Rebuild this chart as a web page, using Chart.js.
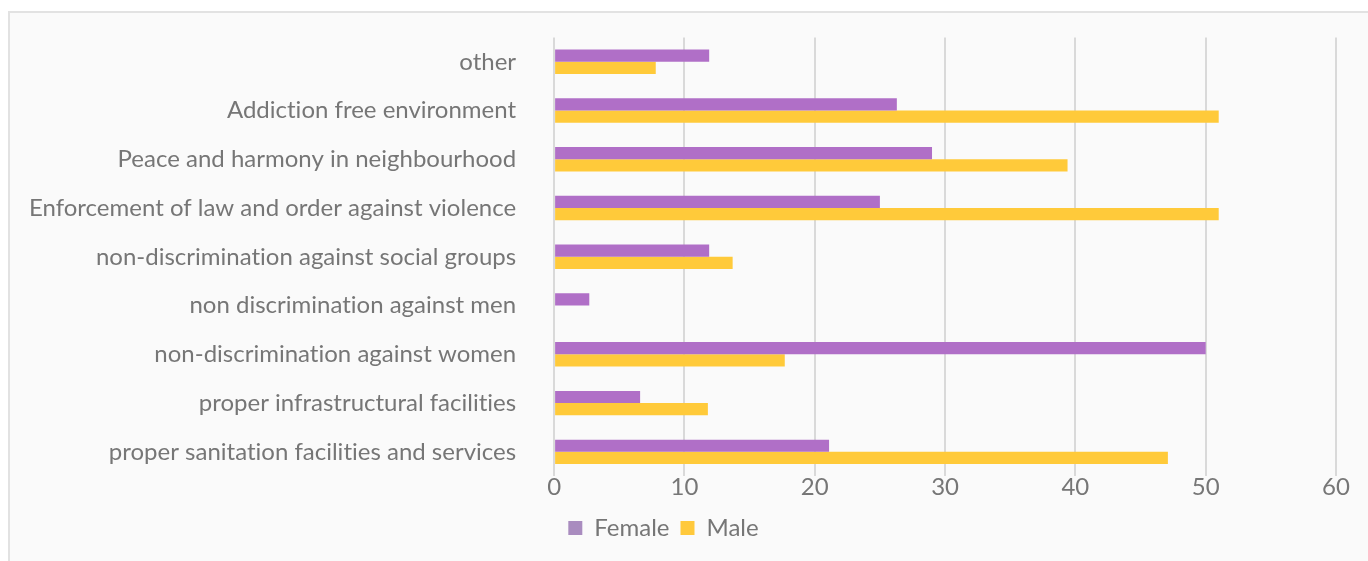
<!DOCTYPE html>
<html>
<head>
<meta charset="utf-8">
<script src="https://cdn.jsdelivr.net/npm/chart.js@4/dist/chart.umd.min.js"></script>
<style>
    html, body { margin: 0; padding: 0; background: #ffffff; overflow: hidden; }
    #frame {
        position: absolute; left: 8px; top: 11px;
        width: 1400px; height: 600px;
        background: #fafafa; border: 2px solid #e2e2e2;
    }
    #wrap { position: absolute; left: 0; top: -15px; width: 1368px; height: 576px; }
</style>
</head>
<body>
<div id="frame"></div>
<div id="wrap"><canvas id="goalsChart"></canvas></div>
<script>
(function goals () {
    'use strict';

    var categories = [
        'other',
        'Addiction free environment',
        'Peace and harmony in neighbourhood',
        'Enforcement of law and order against violence',
        'non-discrimination against social groups',
        'non discrimination against men',
        'non-discrimination against women',
        'proper infrastructural facilities',
        'proper sanitation facilities and services'
    ];
    var female = [11.9, 26.3, 29.0, 25.0, 11.9, 2.7, 50.0, 6.6, 21.1];
    var male = [7.8, 51.0, 39.4, 51.0, 13.7, 0, 17.7, 11.8, 47.1];
    var xTicks = [0, 10, 20, 30, 40, 50, 60];

    var barColors = ['#b06fc7', '#ffca3a'];
    var swatchColors = ['#a98cbf', '#ffc93c'];
    var textColor = '#767676';
    var font = { family: 'Lato', size: 24 };

    var ctx = document.getElementById('goalsChart').getContext('2d');

    // plain glyphs, no "ti" / "fi" ligatures
    var plainText = {
        id: 'plainText',
        beforeDraw: function (chart) {
            chart.ctx.textRendering = 'optimizeSpeed';
        }
    };

    new Chart(ctx, {
        type: 'bar',
        data: {
            labels: categories,
            datasets: [{
                label: 'Female',
                data: female,
                backgroundColor: barColors[0]
            }, {
                label: 'Male',
                data: male,
                backgroundColor: barColors[1]
            }]
        },
        plugins: [plainText],
        options: {
            indexAxis: 'y',
            responsive: true,
            maintainAspectRatio: false,
            animation: false,
            datasets: {
                bar: {
                    categoryPercentage: 0.5,
                    barPercentage: 1.0
                }
            },
            layout: {
                padding: { left: -9, right: 32, top: 10, bottom: 11 }
            },
            scales: {
                x: {
                    min: xTicks[0],
                    max: xTicks[xTicks.length - 1],
                    afterBuildTicks: function setTicks (axis) {
                        axis.ticks = xTicks.map(function (v) { return { value: v }; });
                    },
                    afterFit: function roomBelow (axis) {
                        axis.height += 6;
                    },
                    border: { display: false },
                    grid: { color: '#d9d9d9', lineWidth: 2, drawTicks: false },
                    ticks: {
                        padding: -3,
                        color: textColor,
                        font: font
                    }
                },
                y: {
                    border: { display: false },
                    grid: { display: false, drawTicks: false },
                    ticks: {
                        padding: 38,
                        color: textColor,
                        font: font
                    }
                }
            },
            plugins: {
                tooltip: { enabled: false },
                legend: {
                    position: 'bottom',
                    labels: {
                        boxWidth: 14,
                        boxHeight: 14,
                        padding: 11,
                        color: textColor,
                        font: font,
                        generateLabels: function legendItems (chart) {
                            return chart.data.datasets.map(function (ds, i) {
                                return {
                                    text: ds.label,
                                    fillStyle: swatchColors[i],
                                    strokeStyle: swatchColors[i],
                                    lineWidth: 0,
                                    fontColor: textColor,
                                    datasetIndex: i
                                };
                            });
                        }
                    }
                }
            }
        }
    });
}());
</script>
</body>
</html>
